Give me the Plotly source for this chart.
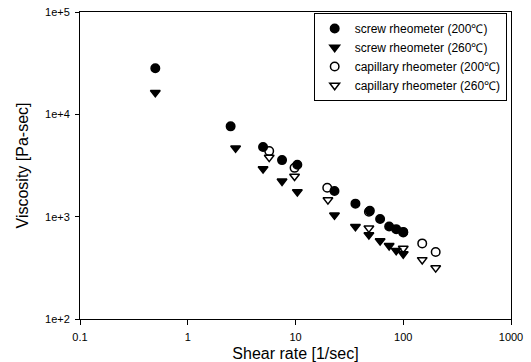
import plotly.graph_objects as go

# Screw rheometer, 200 C (filled circles)
screw200_x = [0.5, 2.5, 5.0, 7.5, 10.4, 23, 36, 49, 61, 74, 86, 100]
screw200_y = [28200, 7630, 4790, 3570, 3210, 1780, 1340, 1140, 950, 800, 755, 710]
# Screw rheometer, 260 C (filled down triangles)
screw260_x = [0.5, 2.78, 5.0, 7.5, 10.4, 23, 36, 48, 61, 74, 86, 100]
screw260_y = [16300, 4680, 2930, 2220, 1750, 1035, 800, 665, 580, 520, 467, 432]
# Capillary rheometer, 200 C (open circles)
cap200_x = [5.7, 9.8, 19.7, 48, 100, 150, 200]
cap200_y = [4370, 3000, 1920, 1117, 700, 548, 452]
# Capillary rheometer, 260 C (open down triangles)
cap260_x = [5.7, 9.8, 20, 48, 100, 150, 200]
cap260_y = [3800, 2480, 1460, 773, 489, 379, 316]

names = ["screw rheometer (200\u2103)", "screw rheometer (260\u2103)",
         "capillary rheometer (200\u2103)", "capillary rheometer (260\u2103)"]

x_tickvals = [0.1, 1, 10, 100, 1000]
x_ticktext = ["0.1", "1", "10", "100", "1000"]
y_tickvals = [100, 1000, 10000, 100000]
y_ticktext = ["1e+2", "1e+3", "1e+4", "1e+5"]

fig = go.Figure()
series = [
    (screw200_x, screw200_y, "circle"),
    (screw260_x, screw260_y, "triangle-down"),
    (cap200_x, cap200_y, "circle-open"),
    (cap260_x, cap260_y, "triangle-down-open"),
]
for (xs, ys, sym), nm in zip(series, names):
    fig.add_trace(go.Scatter(
        x=xs, y=ys, mode="markers", name=nm,
        marker=dict(symbol=sym, size=8.5, color="black", line=dict(color="black", width=1.5)),
    ))

font_family = "Liberation Sans, Arial, sans-serif"
fig.update_layout(
    width=531, height=362,
    margin=dict(l=80, r=20, t=12, b=43),
    paper_bgcolor="white", plot_bgcolor="white",
    font=dict(family=font_family, color="black", size=11),
    legend=dict(
        x=0.99, y=0.997, xanchor="right", yanchor="top",
        bordercolor="black", borderwidth=1, bgcolor="white",
        font=dict(size=12), tracegroupgap=0, itemwidth=30,
    ),
    showlegend=True,
)
fig.update_xaxes(
    type="log", range=[-1, 3], tickvals=x_tickvals, ticktext=x_ticktext,
    showgrid=False, zeroline=False, showline=True, linecolor="black", linewidth=1,
    mirror=True, ticks="outside", ticklen=5, tickcolor="black", automargin=False,
    tickfont=dict(size=11), ticklabelstandoff=3,
    title=dict(text="Shear rate [1/sec]", font=dict(size=16), standoff=6),
)
fig.update_yaxes(
    type="log", range=[2, 5], tickvals=y_tickvals, ticktext=y_ticktext,
    showgrid=False, zeroline=False, showline=True, linecolor="black", linewidth=1,
    mirror=True, ticks="outside", ticklen=4, tickcolor="black", automargin=False,
    tickfont=dict(size=11), ticklabelstandoff=3,
    title=dict(text="Viscosity [Pa-sec]", font=dict(size=16), standoff=12),
)
fig.write_html("out.html", config={"displayModeBar": False},
               post_script="document.body.style.margin='0';")
